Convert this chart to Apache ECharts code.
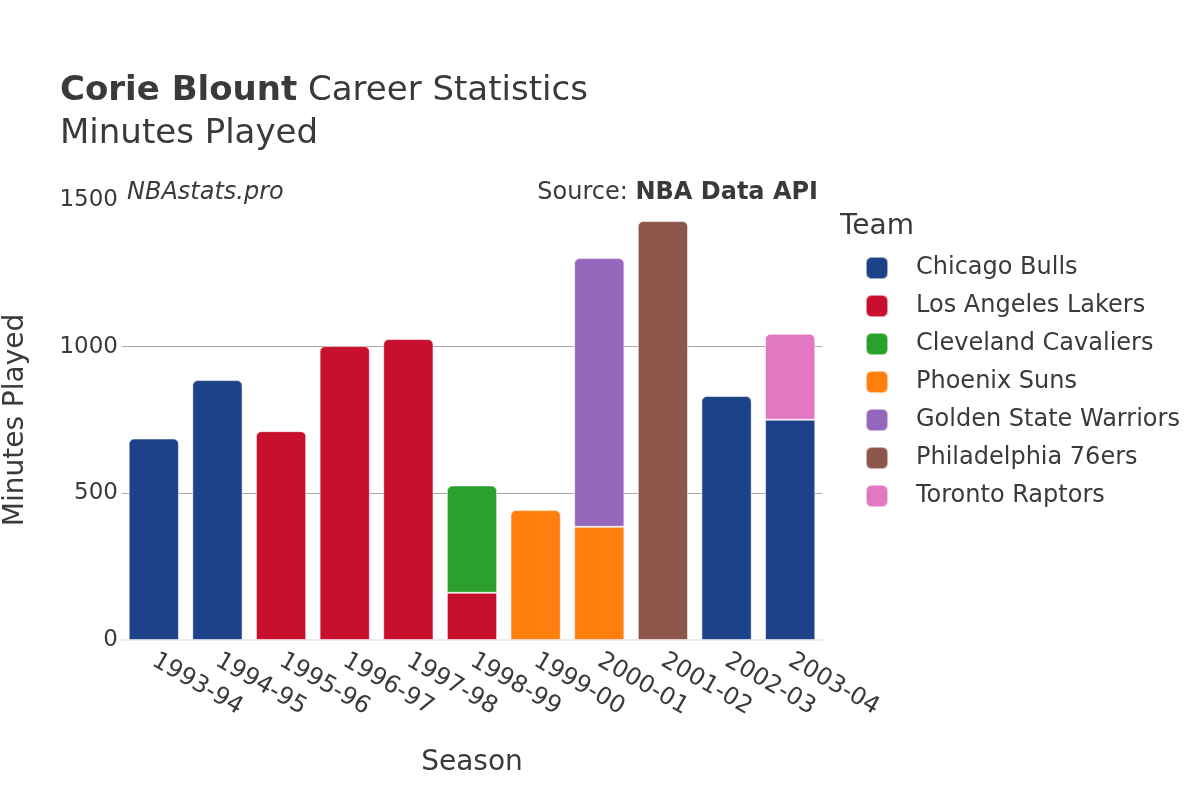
<!DOCTYPE html>
<html>
<head>
<meta charset="utf-8">
<script src="https://cdn.jsdelivr.net/npm/echarts@6/dist/echarts.min.js"></script>
<style>
html,body{margin:0;padding:0;background:#fff;}
#chart{width:1200px;height:800px;}
</style>
</head>
<body>
<div id="chart"></div>
<script>
const seasons = ['1993-94','1994-95','1995-96','1996-97','1997-98','1998-99','1999-00','2000-01','2001-02','2002-03','2003-04'];
const teams = ['Chicago Bulls','Los Angeles Lakers','Cleveland Cavaliers','Phoenix Suns','Golden State Warriors','Philadelphia 76ers','Toronto Raptors'];
const teamColors = ['#1d428a','#c8102e','#2ca02c','#ff7f0e','#9467bd','#8c564b','#e377c2'];
const bulls    = [687, 886, null, null, null, null, null, null, null, 832, 751];
const lakers   = [null, null, 712, 1002, 1026, 161, null, null, null, null, null];
const cavs     = [null, null, null, null, null, 366, null, null, null, null, null];
const suns     = [null, null, null, null, null, null, 443, 386, null, null, null];
const warriors = [null, null, null, null, null, null, null, 916, null, null, null];
const sixers   = [null, null, null, null, null, null, null, null, 1428, null, null];
const raptors  = [null, null, null, null, null, null, null, null, null, null, 293];
const yTicks = [0, 500, 1000, 1500];

const seriesValues = [bulls, lakers, cavs, suns, warriors, sixers, raptors];
const textColor = '#3a3a3a';
const font = 'DejaVu Sans';

const series = seriesValues.map((vals, si) => ({
  name: teams[si],
  type: 'bar',
  stack: 'total',
  barCategoryGap: '21%',
  itemStyle: { color: teamColors[si], borderColor: 'rgba(255,255,255,0.55)', borderWidth: 1 },
  data: vals.map((v, i) => {
    if (v === null) return null;
    let isTop = true;
    for (let k = si + 1; k < seriesValues.length; k++) {
      if (seriesValues[k][i] !== null) { isTop = false; break; }
    }
    return { value: v, itemStyle: { borderRadius: isTop ? [5, 5, 0, 0] : 0 } };
  })
}));

const chart = echarts.init(document.getElementById('chart'));
chart.setOption({
  animation: false,
  backgroundColor: '#fff',
  textStyle: { fontFamily: font, color: textColor },
  title: {
    left: 55, top: 65,
    text: '{b|Corie Blount} Career Statistics\nMinutes Played',
    textStyle: {
      fontFamily: font, fontSize: 34, fontWeight: 'normal', color: textColor, lineHeight: 43,
      rich: { b: { fontFamily: font, fontSize: 34, fontWeight: 'bold', color: textColor, lineHeight: 43 } }
    }
  },
  graphic: [
    { type: 'text', left: 127, top: 181, style: { text: 'NBAstats.pro', font: 'italic 24px "DejaVu Sans"', fill: textColor } },
    { type: 'text', right: 382, top: 181, style: { text: '{n|Source: }{b|NBA Data API}', rich: {
        n: { fontFamily: font, fontSize: 24, fill: textColor },
        b: { fontFamily: font, fontSize: 24, fontWeight: 'bold', fill: textColor }
      } } },
    { type: 'text', left: 840, top: 213, style: { text: 'Team', font: '28px "DejaVu Sans"', fill: textColor } }
  ],
  legend: {
    orient: 'vertical', left: 860, top: 251,
    itemWidth: 22, itemHeight: 22, itemGap: 14, icon: 'roundRect',
    textStyle: { fontFamily: font, fontSize: 24, color: textColor, padding: [0, 0, 0, 23] },
    data: teams
  },
  grid: { left: 122, right: 378, top: 200, bottom: 160, containLabel: false, outerBoundsMode: 'none' },
  xAxis: {
    type: 'category', data: seasons,
    name: 'Season', nameLocation: 'middle', nameGap: 109,
    nameTextStyle: { fontFamily: font, fontSize: 28, color: textColor },
    axisLine: { show: true, lineStyle: { color: '#ebebeb', width: 2 } },
    axisTick: { show: false },
    axisLabel: { rotate: -30, margin: 19, fontFamily: font, fontSize: 24, color: textColor }
  },
  yAxis: {
    type: 'value', min: yTicks[0], max: yTicks[yTicks.length - 1], interval: 500,
    name: 'Minutes Played', nameLocation: 'middle', nameGap: 92,
    nameTextStyle: { fontFamily: font, fontSize: 28, color: textColor },
    axisLine: { show: false }, axisTick: { show: false },
    axisLabel: { margin: 4, fontFamily: font, fontSize: 23, color: textColor, formatter: v => String(v) },
    splitLine: { show: true, showMinLine: false, showMaxLine: false, lineStyle: { color: '#a8a8a8', width: 1 } }
  },
  series: series
});
</script>
</body>
</html>
